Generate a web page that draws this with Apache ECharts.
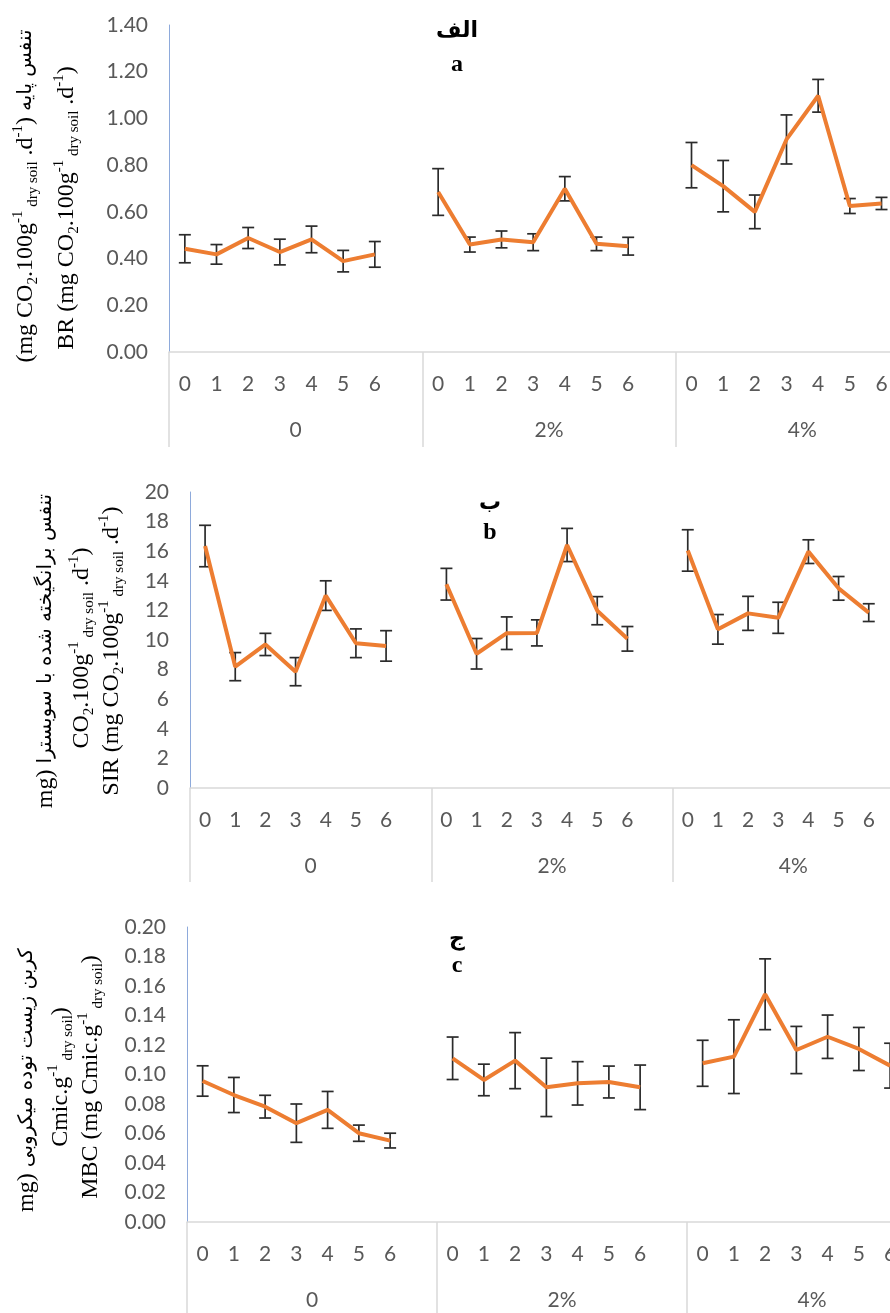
<!DOCTYPE html>
<html><head><meta charset="utf-8">
<script src="https://cdn.jsdelivr.net/npm/echarts/dist/echarts.min.js"></script>
<style>html,body{margin:0;padding:0;background:#fff}#c{width:890px;height:1313px}</style>
</head><body><div id="c"></div>
<script>
// ---------- data ----------
const days = ['0','1','2','3','4','5','6'];
const doses = ['0','2%','4%'];

// Panel a: BR
const brMean0 = [0.442,0.418,0.488,0.428,0.482,0.389,0.418];
const brErr0  = [0.060,0.042,0.045,0.055,0.057,0.046,0.055];
const brMean2 = [0.685,0.460,0.482,0.470,0.699,0.463,0.453];
const brErr2  = [0.100,0.032,0.036,0.036,0.052,0.029,0.038];
const brMean4 = [0.800,0.710,0.600,0.910,1.097,0.625,0.636];
const brErr4  = [0.097,0.110,0.072,0.105,0.070,0.032,0.026];

// Panel b: SIR
const sirMean0 = [16.35,8.20,9.70,7.86,13.00,9.78,9.60];
const sirErr0  = [1.40,0.95,0.75,0.95,1.00,0.97,1.03];
const sirMean2 = [13.77,9.07,10.46,10.48,16.42,11.98,10.08];
const sirErr2  = [1.07,1.03,1.10,0.88,1.12,0.95,0.83];
const sirMean4 = [16.05,10.72,11.80,11.50,15.97,13.49,11.85];
const sirErr4  = [1.40,1.00,1.15,1.05,0.80,0.80,0.60];

// Panel c: MBC
const mbcMean0 = [0.0956,0.0861,0.0782,0.0670,0.0760,0.0602,0.0552];
const mbcErr0  = [0.0103,0.0119,0.0077,0.0130,0.0125,0.0055,0.0050];
const mbcMean2 = [0.1110,0.0963,0.1094,0.0913,0.0940,0.0949,0.0913];
const mbcErr2  = [0.0144,0.0107,0.0190,0.0198,0.0147,0.0108,0.0151];
const mbcMean4 = [0.1076,0.1121,0.1544,0.1166,0.1256,0.1173,0.1060];
const mbcErr4  = [0.0156,0.0250,0.0240,0.0160,0.0147,0.0146,0.0152];

// ---------- helpers ----------
const cats = [];
doses.forEach(() => { days.forEach(d => cats.push(d)); cats.push(''); });

function lineData(m0, m2, m4) {
  return [...m0, '-', ...m2, '-', ...m4, '-'];
}
function errData(ms, es) {
  const out = [];
  ms.forEach((m, g) => m.forEach((v, i) => out.push([g * 8 + i, v, es[g][i]])));
  return out;
}
function errRender(params, api) {
  const x = api.value(0), m = api.value(1), e = api.value(2);
  const t = api.coord([x, m + e]), b = api.coord([x, m - e]);
  const hw = 6;
  const st = () => ({ stroke: '#2b2b2b', lineWidth: 1.7 });
  return { type: 'group', children: [
    { type: 'line', shape: { x1: t[0], y1: t[1], x2: b[0], y2: b[1] }, style: st() },
    { type: 'line', shape: { x1: t[0] - hw, y1: t[1], x2: t[0] + hw, y2: t[1] }, style: st() },
    { type: 'line', shape: { x1: b[0] - hw, y1: b[1], x2: b[0] + hw, y2: b[1] }, style: st() }
  ]};
}
const tickFont = 'Lato';
const gray = '#d9d9d9';
function catAxis(gi) {
  return { type: 'category', gridIndex: gi, data: cats, boundaryGap: true, position: 'bottom',
    axisLine: { lineStyle: { color: gray, width: 1.5 } }, axisTick: { show: false },
    axisLabel: { interval: 0, margin: 22, fontSize: 21, color: '#595959', fontFamily: tickFont },
    splitLine: { show: false } };
}
function grpAxis(gi, len) {
  return { type: 'category', gridIndex: gi, data: doses, boundaryGap: true, position: 'bottom',
    axisLine: { show: false },
    axisTick: { show: true, interval: 0, length: len, lineStyle: { color: gray, width: 1.5 } },
    axisLabel: { interval: 0, margin: 68, fontSize: 21, color: '#595959', fontFamily: tickFont },
    splitLine: { show: false } };
}
function valAxis(gi, max, interval, dec) {
  return { type: 'value', gridIndex: gi, min: 0, max: max, interval: interval,
    axisLine: { show: true, lineStyle: { color: '#8eaadb', width: 1 } }, axisTick: { show: false },
    splitLine: { show: false },
    axisLabel: { margin: 21, fontSize: 21, color: '#595959', fontFamily: tickFont,
      formatter: v => v.toFixed(dec) } };
}

const serif = "'Liberation Serif','DejaVu Sans',serif";
function richStyle(color) {
  return {
    n:   { fontSize: 24, lineHeight: 30, fontFamily: serif, color: color, verticalAlign: 'middle' },
    sub: { fontSize: 15, lineHeight: 16, fontFamily: serif, color: color, verticalAlign: 'bottom' },
    sup: { fontSize: 15, lineHeight: 16, fontFamily: serif, color: color, verticalAlign: 'top' },
    fa:  { fontSize: 20, lineHeight: 30, fontFamily: "'DejaVu Sans'", color: color, verticalAlign: 'middle' }
  };
}
function vText(x, y, text, color) {
  return { type: 'text', x: x, y: y, rotation: Math.PI / 2,
    style: { text: text, rich: richStyle(color || '#000'), align: 'center', verticalAlign: 'middle',
             textAlign: 'center', textVerticalAlign: 'middle' } };
}
function label(x, y, text, size, fam) {
  return { type: 'text', x: x, y: y,
    style: { text: text, font: 'bold ' + size + 'px ' + fam, fill: '#000',
             align: 'center', verticalAlign: 'middle', textAlign: 'center', textVerticalAlign: 'middle' } };
}
const unitCO2 = '{n|CO}{sub|2}{n|.100g}{sup|-1}{sub| dry soil}{n| .d}{sup|-1}{n|)}';

const gridBase = { outerBoundsMode: 'none', containLabel: false };
const option = {
  animation: false,
  backgroundColor: '#fff',
  grid: [
    Object.assign({ left: 169, top: 25, width: 760, height: 327 }, gridBase),
    Object.assign({ left: 190, top: 492, width: 724, height: 296 }, gridBase),
    Object.assign({ left: 187, top: 927, width: 750, height: 295 }, gridBase)
  ],
  xAxis: [catAxis(0), grpAxis(0, 95), catAxis(1), grpAxis(1, 94), catAxis(2), grpAxis(2, 100)],
  yAxis: [valAxis(0, 1.4, 0.2, 2), valAxis(1, 20, 2, 0), valAxis(2, 0.2, 0.02, 2)],
  series: [
    { type: 'custom', xAxisIndex: 0, yAxisIndex: 0, renderItem: errRender, encode: { x: 0, y: 1 },
      data: errData([brMean0, brMean2, brMean4], [brErr0, brErr2, brErr4]), z: 2 },
    { type: 'line', xAxisIndex: 0, yAxisIndex: 0, data: lineData(brMean0, brMean2, brMean4),
      symbol: 'none', connectNulls: false, lineStyle: { color: '#ed7d31', width: 4 }, z: 3 },
    { type: 'custom', xAxisIndex: 2, yAxisIndex: 1, renderItem: errRender, encode: { x: 0, y: 1 },
      data: errData([sirMean0, sirMean2, sirMean4], [sirErr0, sirErr2, sirErr4]), z: 2 },
    { type: 'line', xAxisIndex: 2, yAxisIndex: 1, data: lineData(sirMean0, sirMean2, sirMean4),
      symbol: 'none', connectNulls: false, lineStyle: { color: '#ed7d31', width: 4 }, z: 3 },
    { type: 'custom', xAxisIndex: 4, yAxisIndex: 2, renderItem: errRender, encode: { x: 0, y: 1 },
      data: errData([mbcMean0, mbcMean2, mbcMean4], [mbcErr0, mbcErr2, mbcErr4]), z: 2 },
    { type: 'line', xAxisIndex: 4, yAxisIndex: 2, data: lineData(mbcMean0, mbcMean2, mbcMean4),
      symbol: 'none', connectNulls: false, lineStyle: { color: '#ed7d31', width: 4 }, z: 3 }
  ],
  graphic: [
    // panel a
    label(457, 31, 'الف', 22, "'DejaVu Sans'"),
    label(457, 65, 'a', 24, "'Liberation Serif'"),
    vText(26, 196, '{n|(mg }' + unitCO2 + '{n| }{fa|تنفس پایه}'),
    vText(67, 208, '{n|BR (mg }' + unitCO2),
    // panel b
    label(490, 503, 'ب', 22, "'DejaVu Sans'"),
    label(490, 533, 'b', 24, "'Liberation Serif'"),
    vText(46, 651, '{n|mg) }{fa|تنفس برانگیخته شده با سوبسترا}'),
    vText(82, 648, unitCO2),
    vText(112, 651, '{n|SIR (mg }' + unitCO2),
    // panel c
    label(457, 939, 'ج', 22, "'DejaVu Sans'"),
    label(457, 966, 'c', 24, "'Liberation Serif'"),
    vText(27, 1080, '{n|mg) }{fa|کربن زیست توده میکروبی}'),
    vText(61, 1077, '{n|Cmic.g}{sup|-1}{sub| dry soil}{n|)}', '#767171'),
    vText(91, 1077, '{n|MBC (mg Cmic.g}{sup|-1}{sub| dry soil}{n|)}')
  ]
};
const chart = echarts.init(document.getElementById('c'), null, { renderer: 'canvas' });
chart.setOption(option);
</script>
</body></html>
